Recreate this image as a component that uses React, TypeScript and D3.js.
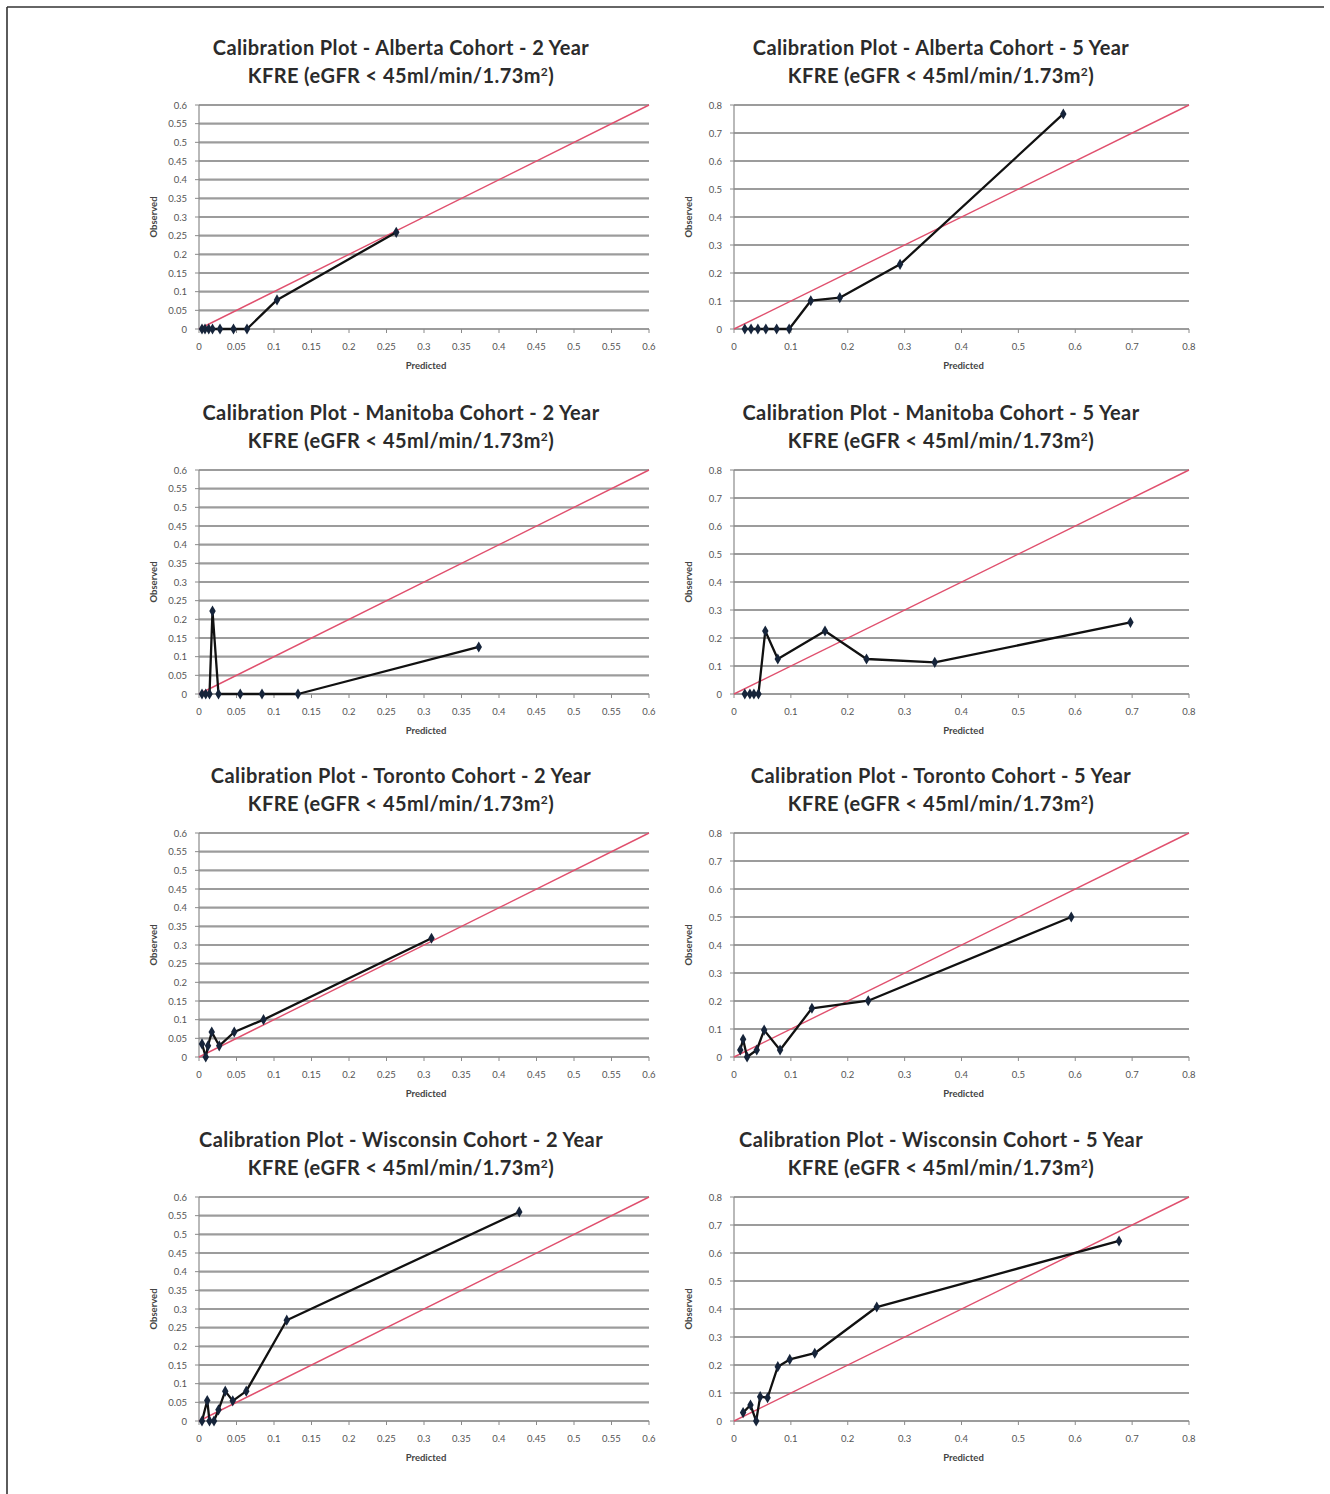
import React from 'react'
import * as d3 from 'd3'

// predicted vs observed risk
const albertaPred2 = [0.004, 0.008, 0.013, 0.018, 0.028, 0.046, 0.064, 0.104, 0.263]
const albertaObs2 = [0, 0, 0, 0, 0, 0, 0, 0.078, 0.259]
const albertaPred5 = [0.019, 0.03, 0.042, 0.056, 0.075, 0.097, 0.135, 0.186, 0.292, 0.579]
const albertaObs5 = [0, 0, 0, 0, 0, 0, 0.101, 0.112, 0.231, 0.768]
const manitobaPred2 = [0.004, 0.009, 0.014, 0.018, 0.026, 0.055, 0.084, 0.132, 0.373]
const manitobaObs2 = [0, 0, 0, 0.222, 0, 0, 0, 0, 0.126]
const manitobaPred5 = [0.019, 0.028, 0.035, 0.043, 0.055, 0.077, 0.16, 0.233, 0.353, 0.697]
const manitobaObs5 = [0, 0, 0, 0, 0.225, 0.125, 0.225, 0.125, 0.113, 0.256]
const torontoPred2 = [0.004, 0.009, 0.012, 0.017, 0.027, 0.047, 0.086, 0.31]
const torontoObs2 = [0.035, 0, 0.03, 0.067, 0.03, 0.067, 0.1, 0.318]
const torontoPred5 = [0.011, 0.016, 0.023, 0.04, 0.053, 0.081, 0.137, 0.236, 0.593]
const torontoObs5 = [0.025, 0.063, 0, 0.025, 0.096, 0.025, 0.174, 0.201, 0.5]
const wisconsinPred2 = [0.004, 0.011, 0.014, 0.02, 0.026, 0.035, 0.045, 0.063, 0.117, 0.427]
const wisconsinObs2 = [0, 0.055, 0, 0, 0.03, 0.08, 0.054, 0.08, 0.27, 0.56]
const wisconsinPred5 = [0.016, 0.029, 0.039, 0.046, 0.059, 0.077, 0.098, 0.142, 0.251, 0.677]
const wisconsinObs5 = [0.03, 0.057, 0, 0.087, 0.083, 0.194, 0.22, 0.242, 0.407, 0.643]

const cohorts = ['Alberta', 'Manitoba', 'Toronto', 'Wisconsin']
const horizons = ['2 Year', '5 Year']
const axisMax = [0.6, 0.8]
const subtitle = 'KFRE (eGFR < 45ml/min/1.73m'

const series = [
  [[albertaPred2, albertaObs2], [albertaPred5, albertaObs5]],
  [[manitobaPred2, manitobaObs2], [manitobaPred5, manitobaObs5]],
  [[torontoPred2, torontoObs2], [torontoPred5, torontoObs5]],
  [[wisconsinPred2, wisconsinObs2], [wisconsinPred5, wisconsinObs5]],
]

const colLeft = [199, 734]
const colWidth = [450, 455]
const rowTop = [105, 470, 833, 1197]
const plotH = 224
const fmt = (d: number) => String(+d.toFixed(2))

function Panel({ row, col }: { row: number; col: number }) {
  const max = axisMax[col]
  const step = col === 0 ? 12 : 8
  const left = colLeft[col]
  const top = rowTop[row]
  const w = colWidth[col]
  const x = d3.scaleLinear().domain([0, max]).range([left, left + w])
  const y = d3.scaleLinear().domain([0, max]).range([top + plotH, top])
  const ticks = x.ticks(step)
  const [pred, obs] = series[row][col]
  const pts = pred.map((p, i) => [p, obs[i]] as [number, number])
  const line = d3.line<[number, number]>().x((d) => x(d[0])).y((d) => y(d[1]))
  const diamond = d3.symbol(d3.symbolDiamond, 36)()
  const cx = left + w / 2
  const titleX = col === 0 ? 401 : 941
  return (
    <g>
      <text x={titleX} y={top - 50} textAnchor="middle" fontFamily="Lato" fontWeight={700}
        fontSize={20} letterSpacing={0.4} fill="#2b2b2b">
        {`Calibration Plot - ${cohorts[row]} Cohort - ${horizons[col]}`}
      </text>
      <text x={titleX} y={top - 22} textAnchor="middle" fontFamily="Lato" fontWeight={700}
        fontSize={20} letterSpacing={0.4} fill="#2b2b2b">
        {subtitle}
        <tspan dy={-7} fontSize={12}>2</tspan>
        <tspan dy={7}>)</tspan>
      </text>
      {ticks.map((t) => (
        <line key={'g' + t} x1={left} x2={left + w} y1={y(t)} y2={y(t)}
          stroke="#9c9c9c" strokeWidth={2.2} />
      ))}
      <line x1={left} x2={left} y1={top} y2={top + plotH} stroke="#8a8a8a" strokeWidth={1.2} />
      {ticks.map((t) => (
        <line key={'xt' + t} x1={x(t)} x2={x(t)} y1={top + plotH} y2={top + plotH + 4}
          stroke="#8a8a8a" strokeWidth={1} />
      ))}
      {ticks.map((t) => (
        <line key={'yt' + t} x1={left - 4} x2={left} y1={y(t)} y2={y(t)}
          stroke="#8a8a8a" strokeWidth={1} />
      ))}
      {ticks.map((t) => (
        <text key={'yl' + t} x={left - 12} y={y(t) + 3.5} textAnchor="end" fontFamily="Lato"
          fontSize={9.5} fill="#555">{fmt(t)}</text>
      ))}
      {ticks.map((t) => (
        <text key={'xl' + t} x={x(t)} y={top + plotH + 21} textAnchor="middle" fontFamily="Lato"
          fontSize={9.5} fill="#555">{fmt(t)}</text>
      ))}
      <text x={cx + 2} y={top + plotH + 40} textAnchor="middle" fontFamily="Lato" fontWeight={700}
        fontSize={9.5} fill="#444">Predicted</text>
      <text transform={`translate(${left - 42},${top + plotH / 2}) rotate(-90)`} textAnchor="middle"
        fontFamily="Lato" fontWeight={700} fontSize={9.5} fill="#444">Observed</text>
      <line x1={x(0)} y1={y(0)} x2={x(max)} y2={y(max)} stroke="#e0506e" strokeWidth={1.4} />
      <path d={line(pts) ?? ''} fill="none" stroke="#111" strokeWidth={2.3} strokeLinejoin="round" />
      {pts.map((p, i) => (
        <path key={i} d={diamond ?? ''} transform={`translate(${x(p[0])},${y(p[1])})`} fill="#16243a" />
      ))}
    </g>
  )
}

export default function App() {
  return (
    <svg width={1330} height={1494} style={{ position: 'absolute', left: 0, top: 0, background: '#fff' }}>
      <rect width={1330} height={1494} fill="#fff" />
      <line x1={7} y1={7} x2={1324} y2={7} stroke="#333" strokeWidth={1.6} />
      <line x1={7} y1={7} x2={7} y2={1494} stroke="#333" strokeWidth={1.6} />
      {cohorts.map((c, r) =>
        horizons.map((h, ci) => <Panel key={c + h} row={r} col={ci} />)
      )}
    </svg>
  )
}
